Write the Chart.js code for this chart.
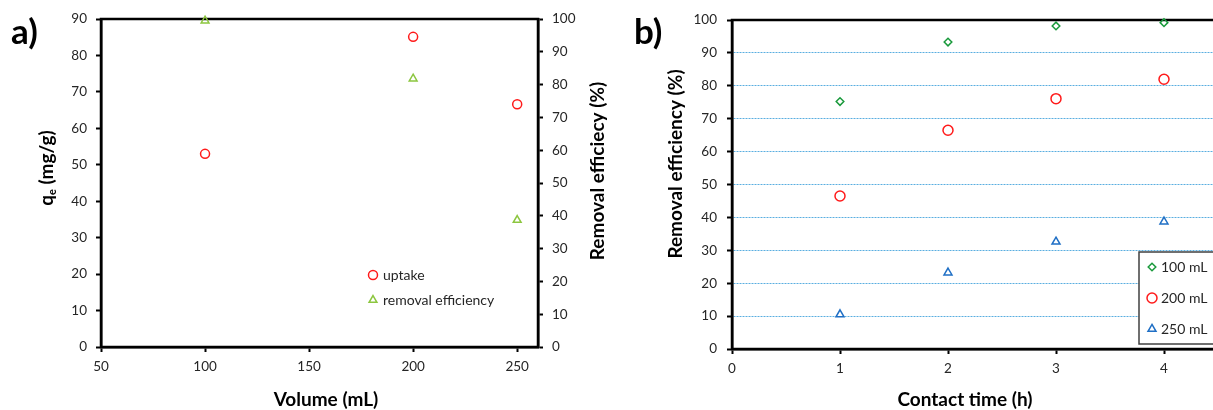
<!DOCTYPE html>
<html>
<head>
<meta charset="utf-8">
<script src="https://cdn.jsdelivr.net/npm/chart.js"></script>
<style>
html, body { margin: 0; padding: 0; background: #fff; overflow: hidden; }
#wrap { position: relative; width: 1213px; height: 410px; overflow: hidden; }
#chartA { position: absolute; left: 0; top: 0; }
#chartB { position: absolute; left: 620px; top: 0; }
</style>
</head>
<body>
<div id="wrap">
  <canvas id="chartA" width="620" height="410"></canvas>
  <canvas id="chartB" width="700" height="410"></canvas>
</div>
<script>
// a) uptake / removal vs volume
const volumes = [100, 200, 250];
const uptake = [53.0, 85.1, 66.6];
const removalByVolume = [99.5, 81.8, 38.7];

// b) removal efficiency vs contact time
const contactTimes = [1, 2, 3, 4];
const eff100 = [75.2, 93.3, 98.2, 99.2];
const eff200 = [46.5, 66.5, 76.1, 82.0];
const eff250 = [10.5, 23.2, 32.6, 38.7];

const FONT = 'Lato, "Open Sans", sans-serif';
const TICK_COLOR = '#262626';
const TICK_SIZE = 13.5;
const TITLE_SIZE = 19;

function pts(xs, ys) {
    return xs.map((x, i) => ({ x: x, y: ys[i] }));
}

function drawMarker(ctx, ds, x, y) {
    ctx.save();
    ctx.strokeStyle = ds.borderColor;
    ctx.fillStyle = 'rgba(0,0,0,0)';
    ctx.lineWidth = ds.borderWidth;
    Chart.helpers.drawPoint(ctx, {
        pointStyle: ds.pointStyle,
        radius: ds.pointRadius,
        rotation: 0,
        borderWidth: ds.borderWidth
    }, x, y);
    ctx.restore();
}

// frame round the plot area
const framePlugin = {
    id: 'frame',
    beforeDatasetsDraw(chart) {
        const a = chart.chartArea;
        const ctx = chart.ctx;
        ctx.save();
        ctx.strokeStyle = '#000';
        ctx.lineWidth = 2.5;
        ctx.strokeRect(a.left, a.top, a.right - a.left, a.bottom - a.top);
        ctx.restore();
    }
};

// free text: panel letters and axis titles
const textPlugin = {
    id: 'figText',
    afterDraw(chart, args, opts) {
        const ctx = chart.ctx;
        (opts.items || []).forEach(item => {
            ctx.save();
            ctx.fillStyle = item.color || '#000';
            ctx.textBaseline = 'middle';
            ctx.translate(item.x, item.y);
            if (item.rotate) ctx.rotate(item.rotate);
            const parts = item.parts || [{ t: item.text }];
            const big = `bold ${item.size}px ${FONT}`;
            const small = `bold ${Math.round(item.size * 0.6)}px ${FONT}`;
            let total = 0;
            parts.forEach(p => {
                ctx.font = p.sub ? small : big;
                total += ctx.measureText(p.t).width;
            });
            let cx = item.align === 'left' ? 0 : -total / 2;
            parts.forEach(p => {
                ctx.font = p.sub ? small : big;
                ctx.textAlign = 'left';
                ctx.fillText(p.t, cx, p.sub ? item.size * 0.3 : 0);
                cx += ctx.measureText(p.t).width;
            });
            ctx.restore();
        });
    }
};

// legend drawn inside the plot area
const innerLegend = {
    id: 'innerLegend',
    afterDraw(chart, args, opts) {
        const ctx = chart.ctx;
        if (opts.box) {
            ctx.save();
            ctx.fillStyle = '#fff';
            ctx.fillRect(opts.box.x, opts.box.y, opts.box.w, opts.box.h);
            ctx.strokeStyle = '#404040';
            ctx.lineWidth = 1.5;
            ctx.strokeRect(opts.box.x, opts.box.y, opts.box.w, opts.box.h);
            ctx.restore();
        }
        chart.data.datasets.forEach((ds, i) => {
            const y = opts.y + i * opts.gap;
            drawMarker(ctx, ds, opts.x, y);
            ctx.save();
            ctx.fillStyle = TICK_COLOR;
            ctx.font = `${opts.size}px ${FONT}`;
            ctx.textBaseline = 'middle';
            ctx.textAlign = 'left';
            ctx.fillText(ds.label, opts.x + opts.textGap, y);
            ctx.restore();
        });
    }
};

function tickFont(pad, step, extra) {
    return Object.assign({ color: TICK_COLOR, font: { family: FONT, size: TICK_SIZE }, padding: pad, stepSize: step }, extra);
}

function axis(extra) {
    return Object.assign({
        type: 'linear',
        grid: { drawOnChartArea: false, tickLength: 5, tickColor: '#000', tickWidth: 2 },
        border: { color: '#000', width: 2.5 }
    }, extra);
}

function pointStyleOf(style, color, r) {
    return {
        pointStyle: style,
        borderColor: color,
        backgroundColor: 'rgba(0,0,0,0)',
        pointRadius: r,
        pointHoverRadius: r,
        borderWidth: 1.5,
        clip: false
    };
}

const chartA = new Chart(document.getElementById('chartA'), {
    type: 'scatter',
    data: {
        datasets: [
            Object.assign({ label: 'uptake', data: pts(volumes, uptake), yAxisID: 'y' },
                pointStyleOf('circle', '#ff1a1a', 4.5)),
            Object.assign({ label: 'removal efficiency', data: pts(volumes, removalByVolume), yAxisID: 'y2' },
                pointStyleOf('triangle', '#8cc63f', 4.5))
        ]
    },
    options: {
        responsive: false,
        animation: false,
        devicePixelRatio: 1,
        layout: { padding: { top: 19, left: 0, right: 0, bottom: 0 } },
        scales: {
            x: axis({
                position: 'bottom', min: 50, max: 260,
                ticks: tickFont(7, 50, { includeBounds: false }),
                afterFit: s => { s.height = 63; }
            }),
            y: axis({
                position: 'left', min: 0, max: 90,
                ticks: tickFont(9, 10),
                afterFit: s => { s.width = 101; }
            }),
            y2: axis({
                position: 'right', min: 0, max: 100,
                ticks: tickFont(9, 10),
                afterFit: s => { s.width = 82; }
            })
        },
        plugins: {
            legend: { display: false },
            tooltip: { enabled: false },
            innerLegend: { x: 373, y: 275, gap: 25, textGap: 10, size: 14 },
            figText: {
                items: [
                    { text: 'a)', x: 11, y: 33, size: 35, align: 'left' },
                    { parts: [{ t: 'q' }, { t: 'e', sub: true }, { t: ' (mg/g)' }], x: 47, y: 168, size: TITLE_SIZE, rotate: -Math.PI / 2 },
                    { text: 'Removal efficiecy (%)', x: 598, y: 171, size: TITLE_SIZE, rotate: -Math.PI / 2 },
                    { text: 'Volume (mL)', x: 326, y: 400, size: TITLE_SIZE }
                ]
            }
        }
    },
    plugins: [framePlugin, textPlugin, innerLegend]
});

const chartB = new Chart(document.getElementById('chartB'), {
    type: 'scatter',
    data: {
        datasets: [
            Object.assign({ label: '100 mL', data: pts(contactTimes, eff100) },
                pointStyleOf('rectRot', '#1a9a3c', 3.8)),
            Object.assign({ label: '200 mL', data: pts(contactTimes, eff200) },
                pointStyleOf('circle', '#ff1a1a', 5)),
            Object.assign({ label: '250 mL', data: pts(contactTimes, eff250) },
                pointStyleOf('triangle', '#1f6fc5', 4.6))
        ]
    },
    options: {
        responsive: false,
        animation: false,
        devicePixelRatio: 1,
        layout: { padding: { top: 20, left: 0, right: 48, bottom: 0 } },
        scales: {
            x: axis({
                position: 'bottom', min: 0, max: 5,
                ticks: tickFont(7, 1),
                afterFit: s => { s.height = 61; }
            }),
            y: axis({
                position: 'left', min: 0, max: 100,
                ticks: tickFont(10, 10),
                grid: {
                    drawOnChartArea: true, tickLength: 5, tickColor: '#000', tickWidth: 2, lineWidth: 1,
                    color: ctx => (ctx.tick && (ctx.tick.value === 0 || ctx.tick.value === 100)) ? 'rgba(0,0,0,0)' : '#5aaee0'
                },
                border: { color: '#000', width: 2.5, dash: [2, 1] },
                afterFit: s => { s.width = 112; }
            })
        },
        plugins: {
            legend: { display: false },
            tooltip: { enabled: false },
            innerLegend: { x: 532, y: 267, gap: 31, textGap: 9, size: 14, box: { x: 519, y: 252, w: 120, h: 92 } },
            figText: {
                items: [
                    { text: 'b)', x: 14, y: 33, size: 35, align: 'left' },
                    { text: 'Removal efficiency (%)', x: 56, y: 164, size: TITLE_SIZE, rotate: -Math.PI / 2 },
                    { text: 'Contact time (h)', x: 345, y: 400, size: TITLE_SIZE }
                ]
            }
        }
    },
    plugins: [framePlugin, textPlugin, innerLegend]
});
</script>
</body>
</html>
